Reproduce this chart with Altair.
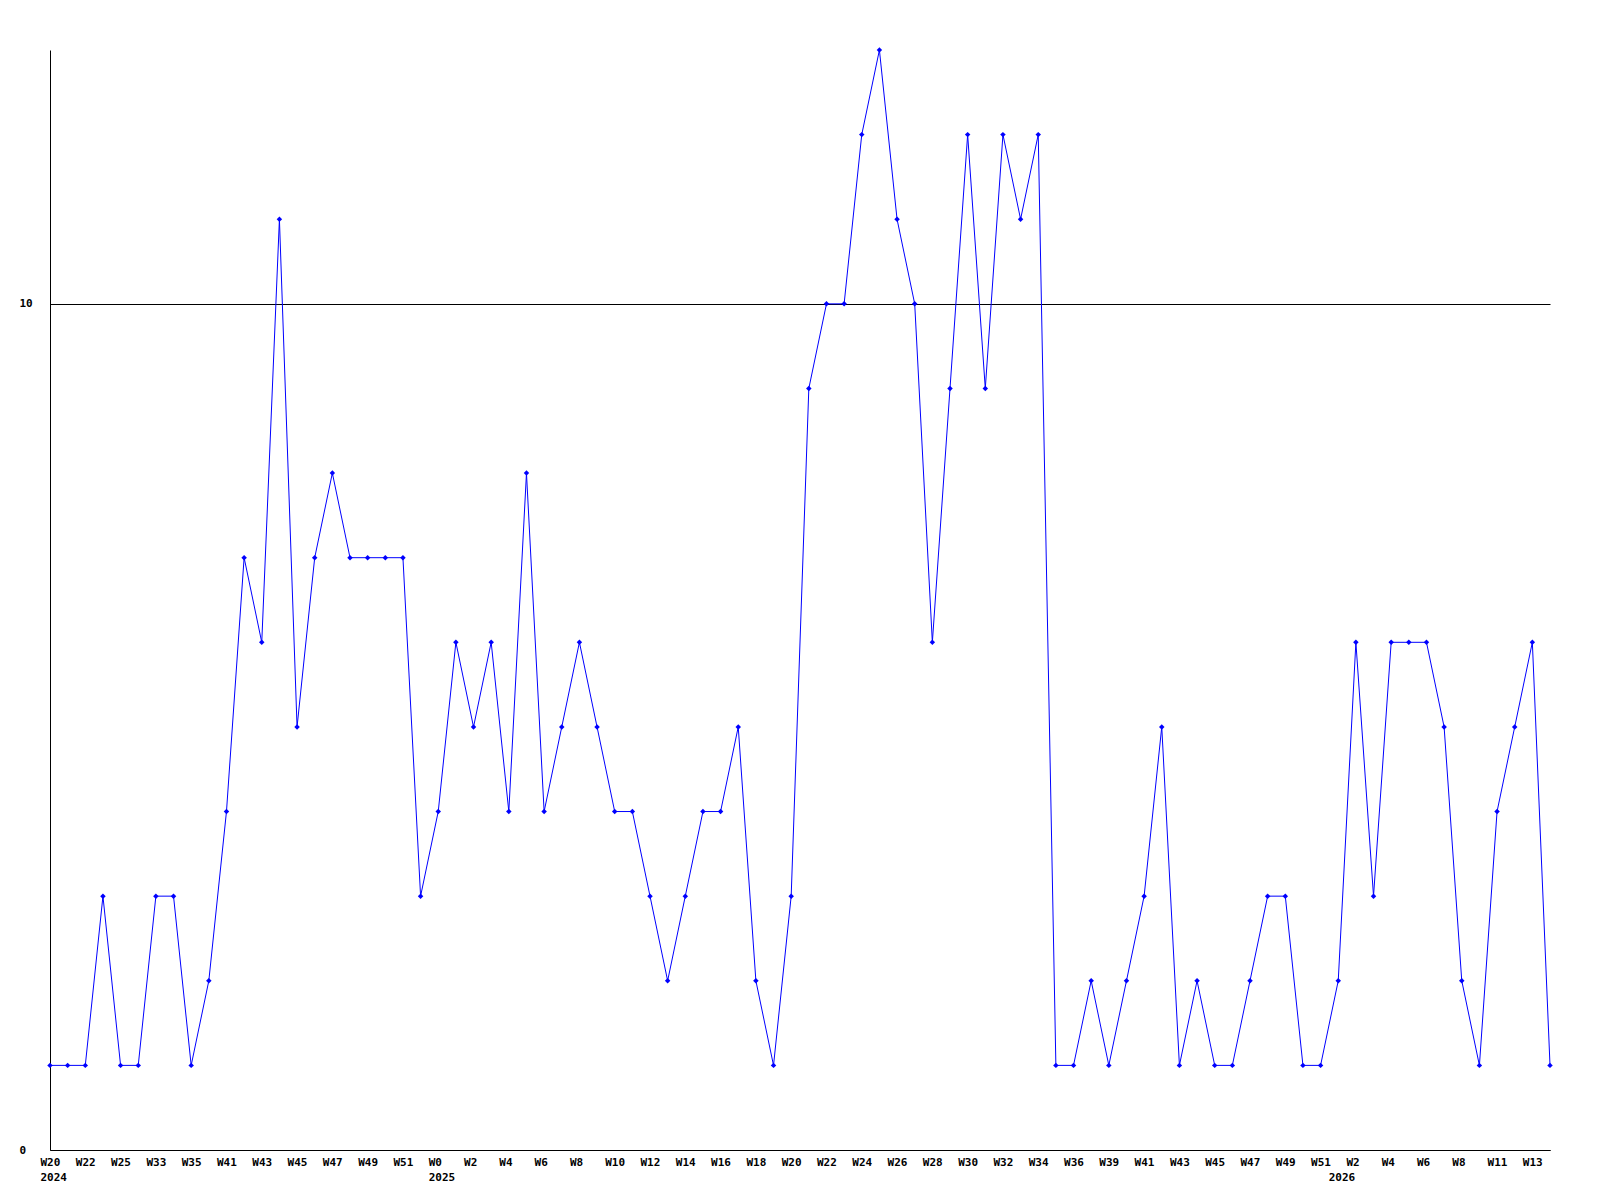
import json
import altair as alt
import pandas as pd

weeks = [
    "W20", "W21", "W22", "W23", "W25", "W26", "W33", "W34", "W35", "W36",
    "W41", "W42", "W43", "W44", "W45", "W46", "W47", "W48", "W49", "W50",
    "W51", "W52",
    "W0", "W1", "W2", "W3", "W4", "W5", "W6", "W7", "W8", "W9",
    "W10", "W11", "W12", "W13", "W14", "W15", "W16", "W17", "W18", "W19",
    "W20", "W21", "W22", "W23", "W24", "W25", "W26", "W27", "W28", "W29",
    "W30", "W31", "W32", "W33", "W34", "W35", "W36", "W38", "W39", "W40",
    "W41", "W42", "W43", "W44", "W45", "W46", "W47", "W48", "W49", "W50",
    "W51",
    "W1", "W2", "W3", "W4", "W5", "W6", "W7", "W8", "W10", "W11",
    "W12", "W13", "W14",
]
years = [2024] * 22 + [2025] * 51 + [2026] * 13
values = [
    1, 1, 1, 3, 1, 1, 3, 3, 1, 2,
    4, 7, 6, 11, 5, 7, 8, 7, 7, 7,
    7, 3, 4, 6, 5, 6, 4, 8, 4, 5,
    6, 5, 4, 4, 3, 2, 3, 4, 4, 5,
    2, 1, 3, 9, 10, 10, 12, 13, 11, 10,
    6, 9, 12, 9, 12, 11, 12, 1, 1, 2,
    1, 2, 3, 5, 1, 2, 1, 1, 2, 3,
    3, 1, 1, 2, 6, 3, 6, 6, 6, 5,
    2, 1, 4, 5, 6, 1,
]
y_ticks = [0, 10]

n = len(values)
df = pd.DataFrame({"idx": list(range(n)), "week": weeks, "year": years, "value": values})

# tick labels: week name on every second point, year on the first point of each year
tick_labels = []
for i in range(n):
    wk = weeks[i] if i % 2 == 0 else ""
    first_of_year = i == 0 or years[i] != years[i - 1]
    if first_of_year:
        tick_labels.append([wk, str(years[i])])
    else:
        tick_labels.append(wk)
label_expr = json.dumps(tick_labels) + "[datum.value]"

font = "DejaVu Sans Mono"

x = alt.X(
    "idx:Q",
    scale=alt.Scale(domain=[0, n - 1], nice=False, zero=False),
    axis=alt.Axis(
        title=None,
        values=list(range(n)),
        labelExpr=label_expr,
        ticks=False,
        grid=False,
        labelAlign="left",
        labelBaseline="top",
        labelOffset=-10,
        labelPadding=6,
        labelLineHeight=15,
        labelOverlap=False,
        labelFlush=False,
        labelBound=False,
        domainColor="black",
        domainWidth=1,
    ),
)
y = alt.Y(
    "value:Q",
    scale=alt.Scale(domain=[0, 13], nice=False),
    axis=alt.Axis(
        title=None,
        values=y_ticks,
        ticks=False,
        grid=True,
        gridColor="black",
        gridOpacity=1,
        gridWidth=1,
        labelAlign="left",
        labelBaseline="middle",
        labelPadding=31,
        domainColor="black",
        domainWidth=1,
    ),
)

line = alt.Chart(df).mark_line(color="#0000ff", strokeWidth=1).encode(x=x, y=y)
pts = alt.Chart(df).mark_point(
    shape="diamond", filled=True, size=30, color="#0000ff", opacity=1
).encode(x=x, y=y)

chart = (
    alt.layer(line, pts)
    .properties(
        width=1500,
        height=1100,
        autosize=alt.AutoSizeParams(type="none"),
        padding={"left": 42, "top": 42, "right": 40, "bottom": 40},
        background="white",
    )
    .configure_view(stroke=None)
    .configure_axis(
        labelFont=font,
        labelFontSize=11,
        labelFontWeight="bold",
        labelColor="black",
    )
)

chart.save("out.html", embed_options={"renderer": "svg", "actions": False})
